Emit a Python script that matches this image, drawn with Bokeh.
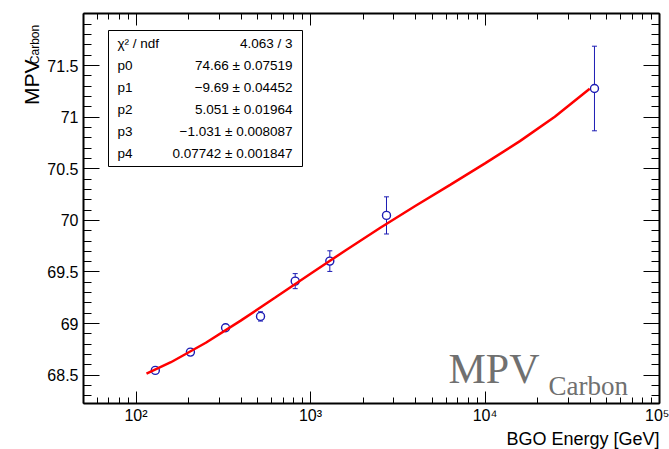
import math
from bokeh.plotting import figure
from bokeh.layouts import row
from bokeh.models import (ColumnDataSource, Range1d, FixedTicker, LogAxis, LinearAxis,
                          Whisker, TeeHead, Label, BoxAnnotation, Title)
from bokeh.embed import file_html
from bokeh.resources import INLINE

# ---------------- data ----------------
energy = [129, 205, 326, 517, 817, 1290, 2725, 42400]
mpv = [68.546, 68.723, 68.959, 69.069, 69.411, 69.605, 70.048, 71.278]
mpv_err = [0.012, 0.012, 0.012, 0.045, 0.073, 0.10, 0.18, 0.41]

# fitted curve (pol4 in log10(E)), sampled values
fit_energy = [114.8, 158.5, 251.2, 398.1, 631.0, 1000.0, 1584.9, 2511.9,
              3981.1, 6309.6, 10000.0, 15848.9, 25118.9, 39810.7]
fit_mpv = [68.514, 68.625, 68.814, 69.028, 69.254, 69.483, 69.708, 69.928,
           70.139, 70.344, 70.552, 70.768, 71.004, 71.276]

x_ticks = [100, 1000, 10000, 100000]
x_tick_labels = ["10\u00b2", "10\u00b3", "10\u2074", "10\u2075"]
y_ticks = [68.5, 69.0, 69.5, 70.0, 70.5, 71.0, 71.5]
y_tick_labels = ["68.5", "69", "69.5", "70", "70.5", "71", "71.5"]

stat_names = ["\u03c7\u00b2 / ndf", "p0", "p1", "p2", "p3", "p4"]
stat_values = ["4.063 / 3", "74.66 \u00b1 0.07519", "\u22129.69 \u00b1 0.04452",
               "5.051 \u00b1 0.01964", "\u22121.031 \u00b1 0.008087",
               "0.07742 \u00b1 0.001847"]

x_title = "BGO Energy [GeV]"
y_title_main = "MPV"
y_title_sub = "Carbon"

# ---------------- layout helpers (page pixels -> data) ----------------
X0, X1 = 50.0, 1.0e5
Y0, Y1 = 68.225, 72.005
FL, FR, FT, FB = 83, 659, 13, 403
TW = 43  # width of the strip that carries the y title


def XD(px):
    lo, hi = math.log10(X0), math.log10(X1)
    return 10 ** (lo + (px - FL) / (FR - FL) * (hi - lo))


def YD(py):
    return Y1 - (py - FT) / (FB - FT) * (Y1 - Y0)


FONT = "Liberation Sans"
BLUE = "#1c1cb4"

p = figure(width=669 - TW, height=449, x_axis_type="log",
           x_range=Range1d(X0, X1), y_range=Range1d(Y0, Y1),
           output_backend="svg", toolbar_location=None,
           min_border_left=FL - TW, min_border_right=669 - FR,
           min_border_top=FT, min_border_bottom=449 - FB)
p.background_fill_color = "white"
p.border_fill_color = "white"
p.outline_line_color = "black"
p.outline_line_width = 1
p.xgrid.visible = False
p.ygrid.visible = False

x_minor = [m * 10 ** d for d in (1, 2, 3, 4) for m in range(2, 10) if m * 10 ** d > X0]
y_minor = [round(68.3 + 0.1 * i, 1) for i in range(37)]
y_minor = [t for t in y_minor if t not in y_ticks]


def style_axis(ax, major_in, minor_in):
    ax.axis_line_color = "black"
    ax.axis_line_width = 2
    ax.major_tick_in = major_in
    ax.major_tick_out = 0
    ax.minor_tick_in = minor_in
    ax.minor_tick_out = 0
    ax.major_tick_line_color = "black"
    ax.minor_tick_line_color = "black"
    ax.major_tick_line_width = 1
    ax.minor_tick_line_width = 1
    ax.major_label_text_font = FONT
    ax.major_label_text_color = "black"


xb = p.xaxis[0]
xb.ticker = FixedTicker(ticks=x_ticks, minor_ticks=x_minor)
xb.major_label_overrides = dict(zip(x_ticks, x_tick_labels))
xb.major_label_text_font_size = "16px"
xb.major_label_standoff = 3
style_axis(xb, 12, 6)

yl = p.yaxis[0]
yl.ticker = FixedTicker(ticks=y_ticks, minor_ticks=y_minor)
yl.major_label_overrides = dict(zip(y_ticks, y_tick_labels))
yl.major_label_text_font_size = "16px"
yl.major_label_standoff = 5
style_axis(yl, 16, 8)

xt = LogAxis(ticker=FixedTicker(ticks=x_ticks, minor_ticks=x_minor))
xt.major_label_overrides = {t: "" for t in x_ticks}
xt.major_label_text_font_size = "0px"
xt.major_label_standoff = 0
style_axis(xt, 12, 6)
p.add_layout(xt, "above")

yr = LinearAxis(ticker=FixedTicker(ticks=y_ticks, minor_ticks=y_minor))
yr.major_label_overrides = {t: "" for t in y_ticks}
yr.major_label_text_font_size = "0px"
yr.major_label_standoff = 0
style_axis(yr, 16, 8)
p.add_layout(yr, "right")

# x-axis title, right aligned under the axis
p.add_layout(Title(text=x_title, align="right", vertical_align="bottom",
                   standoff=0, text_font=FONT, text_font_size="18px",
                   text_font_style="normal", text_color="black"), "below")

# ---------------- data marks ----------------
src = ColumnDataSource(dict(
    energy=energy, mpv=mpv,
    upper=[m + e for m, e in zip(mpv, mpv_err)],
    lower=[m - e for m, e in zip(mpv, mpv_err)],
))
whisk = Whisker(source=src, base="energy", upper="upper", lower="lower",
                dimension="height", line_color=BLUE, line_width=1,
                upper_head=TeeHead(size=5, line_color=BLUE, line_width=1),
                lower_head=TeeHead(size=5, line_color=BLUE, line_width=1))
p.add_layout(whisk)

p.scatter("energy", "mpv", source=src, marker="circle", size=8,
          line_color=BLUE, line_width=1.4, fill_color="white")

p.line(fit_energy, fit_mpv, line_color="#ff0000", line_width=2.5)

# ---------------- stats box ----------------
p.add_layout(BoxAnnotation(left=XD(108), right=XD(302), top=YD(30), bottom=YD(166),
                           fill_color="white", fill_alpha=1.0,
                           line_color="black", line_width=1, line_alpha=1.0))
for i, (n, v) in enumerate(zip(stat_names, stat_values)):
    yy = YD(42.5 + 22.1 * i)
    p.add_layout(Label(x=XD(117), y=yy, text=n, text_align="left",
                       text_baseline="middle", text_font=FONT,
                       text_font_size="13.5px", text_color="black"))
    p.add_layout(Label(x=XD(292), y=yy, text=v, text_align="right",
                       text_baseline="middle", text_font=FONT,
                       text_font_size="13.5px", text_color="black"))

# ---------------- watermark ----------------
p.add_layout(Label(x=XD(448), y=YD(368), text="MPV", text_align="left",
                   text_baseline="alphabetic", text_font="Liberation Serif",
                   text_font_size="42px", text_color="#707070"))
p.add_layout(Label(x=XD(548), y=YD(385), text="Carbon", text_align="left",
                   text_baseline="alphabetic", text_font="Liberation Serif",
                   text_font_size="27px", text_color="#707070"))

# ---------------- strip with the rotated y title ----------------
t = figure(width=TW, height=449, x_range=Range1d(0, TW), y_range=Range1d(449, 0),
           output_backend="svg", toolbar_location=None,
           x_axis_location=None, y_axis_location=None,
           min_border_left=0, min_border_right=0, min_border_top=0,
           min_border_bottom=0)
t.grid.visible = False
t.outline_line_color = None
t.background_fill_color = "white"
t.border_fill_color = "white"
t.add_layout(Label(x=34, y=13, text=y_title_sub, angle=math.pi / 2,
                   text_align="right", text_baseline="alphabetic",
                   text_font=FONT, text_font_size="12px", text_color="black"))
t.add_layout(Label(x=30.5, y=53, text=y_title_main, angle=math.pi / 2,
                   text_align="right", text_baseline="alphabetic",
                   text_font=FONT, text_font_size="21px", text_color="black"))

layout = row(t, p, spacing=0)

with open("out.html", "w", encoding="utf-8") as f:
    f.write(file_html(layout, INLINE))
